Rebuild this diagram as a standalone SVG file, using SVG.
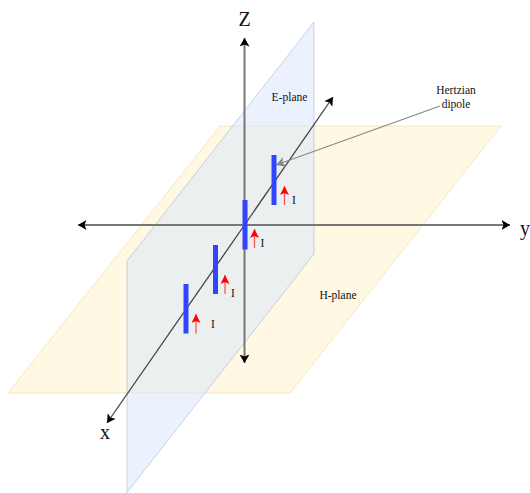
<svg xmlns="http://www.w3.org/2000/svg" width="530" height="493" viewBox="0 0 530 493">
<defs>
<marker id="ah" markerUnits="userSpaceOnUse" markerWidth="10" markerHeight="12" refX="8.500" refY="5" orient="auto"><path d="M0 0L8.500 5L0 10L2 5Z" fill="#000"/></marker>
<marker id="ag" markerUnits="userSpaceOnUse" markerWidth="12" markerHeight="12" refX="9" refY="5" orient="auto"><path d="M0 0L9 5L0 10L2 5Z" fill="#888"/></marker>
<marker id="ar" markerUnits="userSpaceOnUse" markerWidth="10" markerHeight="10" refX="9" refY="4.500" orient="auto"><path d="M0 0L9 4.500L0 9L2 4.500Z" fill="#f00"/></marker>
</defs>
<style>
text{font-family:"Liberation Serif","Times New Roman",serif;fill:#111}
.s{font-size:11.500px}
.b{font-size:20px}
.dip{fill:#3344ff}
.cur{stroke:#f55;stroke-width:1.300;fill:none;marker-end:url(#ar)}
.ax{fill:none;marker-end:url(#ah)}
</style>
<g id="h-plane"><path d="M220 126H501L290 393H8Z" fill="#fff2cc" fill-opacity=".55" stroke="#d6b656" stroke-opacity=".3"/><text class="s" x="338" y="299" text-anchor="middle">H-plane</text></g>
<g id="e-plane"><path d="M314 22V254L127 492.500V261Z" fill="#dae8fc" fill-opacity=".55" stroke="#6c8ebf" stroke-opacity=".35"/><text class="s" x="289.500" y="101" text-anchor="middle">E-plane</text></g>
<g id="connectors">
<path class="ax" d="M244.500 225V38" stroke="#777" stroke-width="2"/>
<path class="ax" d="M244.500 225V363" stroke="#777" stroke-width="2"/>
<path class="ax" d="M244.500 225H510" stroke="#777" stroke-width="2"/>
<path class="ax" d="M244.500 225H78" stroke="#777" stroke-width="2"/>
<path class="ax" d="M244.500 225L333 97" stroke="#444" stroke-width="1.300"/>
<path class="ax" d="M244.500 225L107 423" stroke="#444" stroke-width="1.300"/>
<path d="M440 106L276 165" fill="none" stroke="#888" stroke-width="1.300" marker-end="url(#ag)"/>
</g>
<g id="dipole-1"><rect class="dip" x="271.500" y="155" width="5" height="50"/><path class="cur" d="M284.500 205V186"/><text class="s" x="294" y="204" text-anchor="middle">I</text></g>
<g id="dipole-2"><rect class="dip" x="242.500" y="200" width="5" height="49.500"/><path class="cur" d="M254.500 248V229"/><text class="s" x="262.500" y="247" text-anchor="middle">I</text></g>
<g id="dipole-3"><rect class="dip" x="213" y="245" width="5" height="49"/><path class="cur" d="M225 294V275"/><text class="s" x="233" y="297" text-anchor="middle">I</text></g>
<g id="dipole-4"><rect class="dip" x="183.500" y="284" width="5" height="49.500"/><path class="cur" d="M196 333.500V314"/><text class="s" x="213" y="328" text-anchor="middle">I</text></g>
<g id="label-hertzian"><text class="s" x="456" y="94" text-anchor="middle">Hertzian</text><text class="s" x="456" y="108" text-anchor="middle">dipole</text></g>
<g id="label-z"><text class="b" x="244.500" y="26" text-anchor="middle" font-size="18">Z</text></g>
<g id="label-y"><text class="b" x="520" y="235">y</text></g>
<g id="label-x"><text class="b" x="105" y="439" text-anchor="middle">x</text></g>
</svg>
